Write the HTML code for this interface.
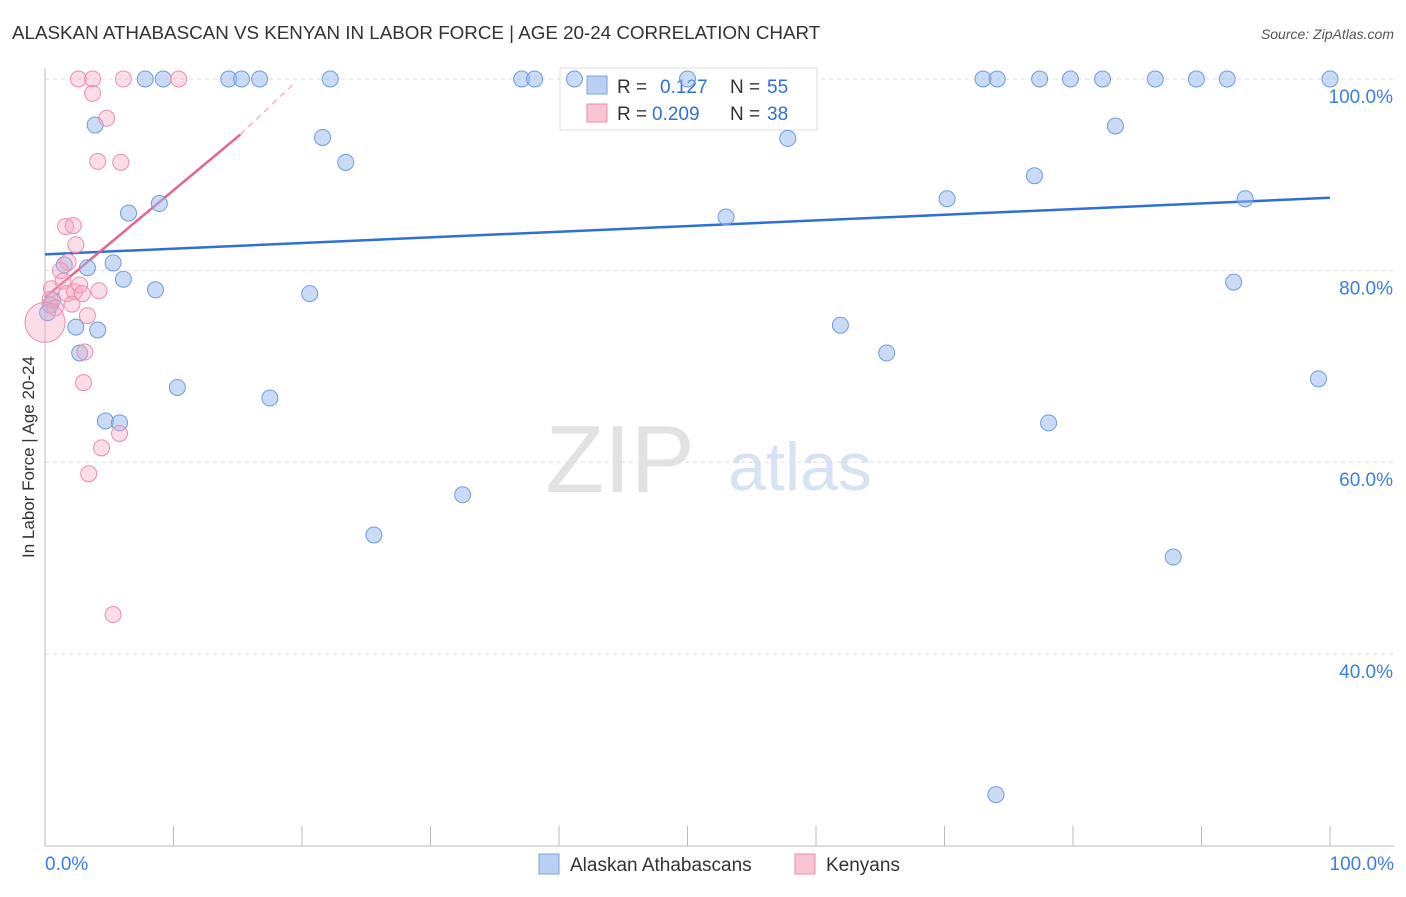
<!DOCTYPE html>
<html><head><meta charset="utf-8"><style>
body{margin:0;background:#fff;font-family:"Liberation Sans",sans-serif;}
svg text{font-family:"Liberation Sans",sans-serif;}
</style></head><body>
<svg width="1406" height="892">
<text x="12" y="39" font-size="18.8" fill="#333">ALASKAN ATHABASCAN VS KENYAN IN LABOR FORCE | AGE 20-24 CORRELATION CHART</text>
<text x="1394" y="39" font-size="14" fill="#555" font-style="italic" text-anchor="end">Source: ZipAtlas.com</text>
<text transform="translate(34,457) rotate(-90)" font-size="17" fill="#333" text-anchor="middle">In Labor Force | Age 20-24</text>
<text x="620" y="492" font-size="96" fill="#e2e2e2" font-family="Liberation Serif" text-anchor="middle">ZIP</text>
<text x="800" y="490" font-size="68" fill="#d6e3f5" text-anchor="middle">atlas</text>
<g id="grid"></g><g id="axes"></g><g id="lines"></g>
<g>
<rect x="560" y="68" width="257" height="62" fill="#fff" stroke="#ddd"/>
<rect x="587" y="76" width="20" height="18" fill="#b9d0f3" stroke="#7aa3e0"/>
<text x="617" y="93" font-size="19" fill="#333">R = </text><text x="660" y="93" font-size="19" fill="#2f6fd6">0.127</text>
<text x="730" y="93" font-size="19" fill="#333">N = </text><text x="767" y="93" font-size="19" fill="#2f6fd6">55</text>
<rect x="587" y="104" width="20" height="18" fill="#f9c5d4" stroke="#eb8eaa"/>
<text x="617" y="120" font-size="19" fill="#333">R = </text><text x="652" y="120" font-size="19" fill="#2f6fd6">0.209</text>
<text x="730" y="120" font-size="19" fill="#333">N = </text><text x="767" y="120" font-size="19" fill="#2f6fd6">38</text>
</g>
<g id="pts"></g>
<g>
<rect x="539" y="854" width="20" height="20" fill="#b9d0f3" stroke="#7aa3e0"/>
<text x="570" y="871" font-size="19" fill="#333">Alaskan Athabascans</text>
<rect x="795" y="854" width="20" height="20" fill="#f9c5d4" stroke="#eb8eaa"/>
<text x="826" y="871" font-size="19" fill="#333">Kenyans</text>
</g>
</svg>
<script>
const yTicks=[100,80,60,40];
const xTickLabels=["0.0%","100.0%"];
const blueX=[7.8,9.2,14.3,15.3,16.7,22.2,37.1,38.1,41.2,50.0,73.0,74.1,77.4,79.8,82.3,86.4,89.6,92.0,100,3.9,21.6,23.4,57.8,83.3,6.5,8.9,53.0,70.2,77.0,93.4,5.3,3.3,1.5,6.1,8.6,20.6,92.5,0.4,0.6,2.4,4.1,61.9,2.7,65.5,10.3,17.5,99.1,4.7,5.8,78.1,32.5,25.6,87.8,74.0,0.2];
const blueY=[100,100,100,100,100,100,100,100,100,100,100,100,100,100,100,100,100,100,100,95.2,93.9,91.3,93.8,95.1,86.0,87.0,85.6,87.5,89.9,87.5,80.8,80.3,80.6,79.1,78.0,77.6,78.8,76.4,76.9,74.1,73.8,74.3,71.4,71.4,67.8,66.7,68.7,64.3,64.1,64.1,56.6,52.4,50.1,25.3,75.6];
const pinkX=[2.6,3.7,6.1,10.4,3.7,4.8,4.1,5.9,1.6,2.2,2.4,1.8,1.2,0.5,0.4,0.8,1.4,1.7,2.3,2.7,2.1,3.3,4.2,2.9,3.1,3.0,4.4,5.8,3.4,5.3,0];
const pinkY=[100,100,100,100,98.5,95.9,91.4,91.3,84.6,84.7,82.7,80.9,80.0,78.1,77.0,76.1,78.9,77.6,77.8,78.5,76.5,75.3,77.9,77.6,71.5,68.3,61.5,63.0,58.8,44.1,74.6];
const blueTrend=[[0,81.7],[100,87.6]];
const pinkTrend=[[0,77.2],[15.2,94.2],[19.5,99.7]];
const X=v=>45+v*12.85, Y=v=>79+(100-v)*9.58;
const NS="http://www.w3.org/2000/svg";
function mk(t,a,p){const e=document.createElementNS(NS,t);for(const k in a)e.setAttribute(k,a[k]);document.getElementById(p).appendChild(e);return e;}
yTicks.forEach(t=>{
 const l=mk('line',{x1:45,x2:1394,y1:Y(t),y2:Y(t),stroke:'#ddd','stroke-dasharray':'4,4'},'grid');
 
 
 const tx=mk('text',{x:1393,y:Y(t)+24,'font-size':19,fill:'#3b7de0','text-anchor':'end'},'grid');tx.textContent=t.toFixed(1)+'%';
 
 
});
const ax=mk('line',{x1:45,x2:45,y1:68,y2:846,stroke:'#bbb'},'axes');


const bx=mk('line',{x1:45,x2:1394,y1:846,y2:846,stroke:'#bbb'},'axes');


for(let i=0;i<=10;i++){const t=mk('line',{x1:X(i*10),x2:X(i*10),y1:826,y2:846,stroke:'#bbb'},'axes');
 
 }
[[0,45,'start'],[1,1394,'end']].forEach(([i,x,a])=>{const t=mk('text',{x:x,y:870,'font-size':19,fill:'#3b7de0','text-anchor':a},'axes');t.textContent=xTickLabels[i];
 
 });
const bl=mk('line',{x1:X(blueTrend[0][0]),y1:Y(blueTrend[0][1]),x2:X(blueTrend[1][0]),y2:Y(blueTrend[1][1]),stroke:'#2f6fd6','stroke-width':2.5},'lines');


const pl=mk('line',{x1:X(pinkTrend[0][0]),y1:Y(pinkTrend[0][1]),x2:X(pinkTrend[1][0]),y2:Y(pinkTrend[1][1]),stroke:'#e8638c','stroke-width':2.5},'lines');


const pd=mk('line',{x1:X(pinkTrend[1][0]),y1:Y(pinkTrend[1][1]),x2:X(pinkTrend[2][0]),y2:Y(pinkTrend[2][1]),stroke:'#f0a5bc','stroke-width':1.2,'stroke-dasharray':'6,5'},'lines');


blueX.forEach((v,i)=>{const c=mk('circle',{cx:X(v),cy:Y(blueY[i]),r:8,fill:'rgba(150,185,235,0.5)',stroke:'#6d9be0','stroke-width':1},'pts');
 
 });
pinkX.forEach((v,i)=>{const c=mk('circle',{cx:X(v),cy:Y(pinkY[i]),r:i==pinkX.length-1?20:8,fill:'rgba(245,170,195,0.4)',stroke:'#eb8eaa','stroke-width':1},'pts');
 
 });
</script>
</body></html>
